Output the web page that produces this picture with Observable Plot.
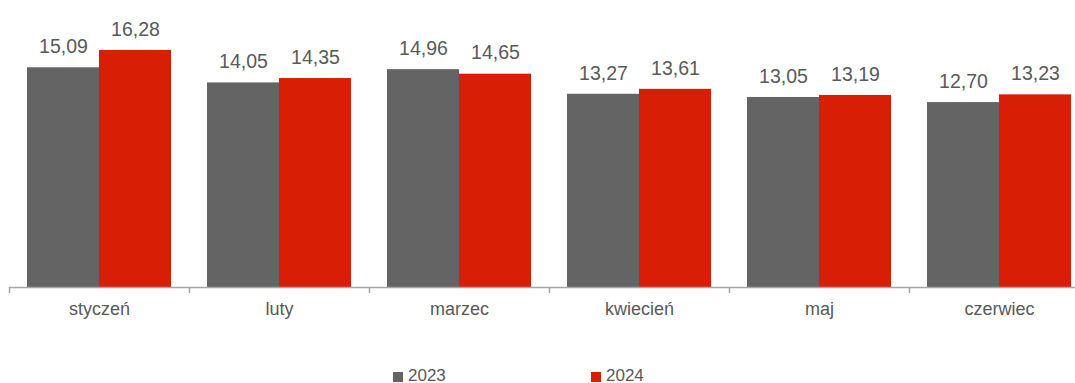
<!DOCTYPE html>
<html>
<head>
<meta charset="utf-8">
<script src="https://cdn.jsdelivr.net/npm/d3@7"></script>
<script src="https://cdn.jsdelivr.net/npm/@observablehq/plot@0.6"></script>
<style>
  html, body { margin: 0; padding: 0; background: #fff; }
  #wrap { position: relative; width: 1075px; height: 383px; font-family: "Liberation Sans Narrow", "Arial Narrow", "Liberation Sans", Arial, sans-serif; color: #595959; }
  #legend { position: absolute; left: 0; top: 345px; width: 1075px; height: 38px; }
  .item { position: absolute; top: 22px; display: flex; align-items: center; font-size: 17px; line-height: 17px; }
  .sw { width: 10px; height: 10px; margin-right: 5px; margin-top: 3px; }
</style>
</head>
<body>
<div id="wrap">
  <div id="chart"></div>
  <div id="legend"></div>
</div>
<script>
const months = ["styczeń", "luty", "marzec", "kwiecień", "maj", "czerwiec"];
const years = ["2023", "2024"];
const values2023 = [15.09, 14.05, 14.96, 13.27, 13.05, 12.70];
const values2024 = [16.28, 14.35, 14.65, 13.61, 13.19, 13.23];
const colors = ["#646464", "#d81e05"];

const d23 = months.map((m, i) => ({month: m, year: "2023", value: values2023[i]}));
const d24 = months.map((m, i) => ({month: m, year: "2024", value: values2024[i]}));
const fmt = v => v.toFixed(2).replace(".", ",");
const font = '"Liberation Sans Narrow", "Arial Narrow", "Liberation Sans", Arial, sans-serif';

const chart = Plot.plot({
  width: 1075,
  height: 345,
  marginTop: 0,
  marginBottom: 58,
  marginLeft: 9,
  marginRight: 0,
  style: {fontFamily: font, color: "#595959", background: "#fff"},
  x: {domain: months, range: [9, 1089], paddingInner: 0.2, paddingOuter: 0.1, label: null},
  y: {domain: [0, 19.71], axis: null},
  marks: [
    Plot.barY(d23, {x: "month", y: "value", fill: colors[0], insetRight: 72}),
    Plot.barY(d24, {x: "month", y: "value", fill: colors[1], insetLeft: 72}),
    Plot.text(d23, {x: "month", y: "value", text: d => fmt(d.value), dx: -36, dy: -21, fontSize: 19.5, fill: "#595959"}),
    Plot.text(d24, {x: "month", y: "value", text: d => fmt(d.value), dx: 36, dy: -21, fontSize: 19.5, fill: "#595959"}),
    Plot.ruleY([0], {stroke: "#a6a6a6", strokeWidth: 1.5}),
    Plot.ruleX(months, {x: d => d, dx: -90, y1: 0, y2: 0, insetBottom: -6, stroke: "#a6a6a6", strokeWidth: 1.5}),
    Plot.axisX({tickSize: 0, tickPadding: 15, fontSize: 18, fill: "#595959", label: null})
  ]
});
document.getElementById("chart").appendChild(chart);

const legend = document.getElementById("legend");
const legendX = [393, 591];
years.forEach((y, i) => {
  const it = document.createElement("div");
  it.className = "item";
  it.style.left = legendX[i] + "px";
  it.innerHTML = `<span class="sw" style="background:${colors[i]}"></span><span>${y}</span>`;
  legend.appendChild(it);
});
</script>
</body>
</html>
